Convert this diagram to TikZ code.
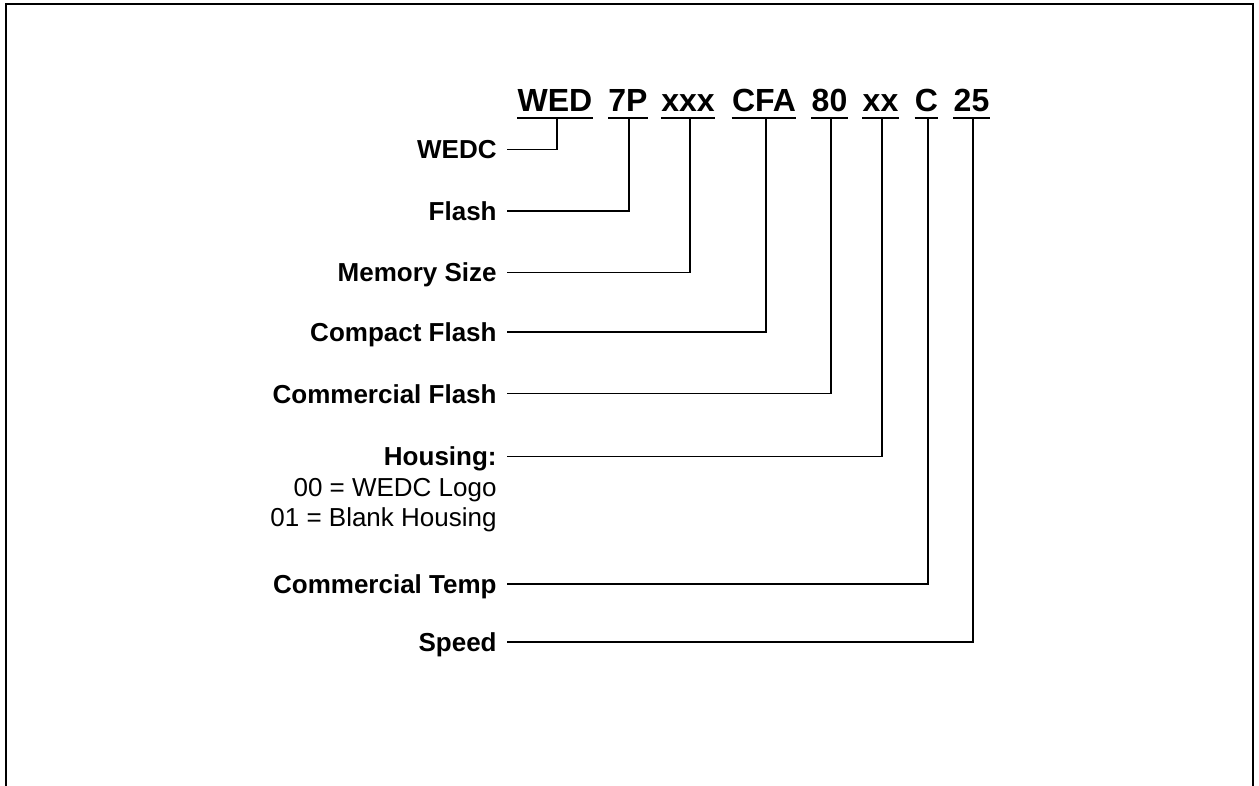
\documentclass[tikz,border=0pt]{standalone}
\usepackage{fontspec}
\setmainfont{Liberation Sans}
\begin{document}
\begin{tikzpicture}[x=0.5pt,y=-0.5pt,
		code/.style={font=\fontsize{16}{19}\selectfont\bfseries,inner sep=0pt,anchor=base},
		lbl/.style={font=\fontsize{13}{15}\selectfont\bfseries,inner sep=0pt,anchor=base east},
		note/.style={font=\fontsize{13}{15}\selectfont,inner sep=0pt,anchor=base east},
		wire/.style={line width=0.6pt}]
		\useasboundingbox (0,0) rectangle (1259,786);
		\draw[line width=1pt] (6,792) -- (6,4.5) -- (1252.5,4.5) -- (1252.5,792);
		\node[code] (wed) at (555,112) {WED};
		\node[code] (sevp) at (628,112) {7P};
		\node[code] (size) at (688,112) {xxx};
		\node[code] (cfa) at (764,112) {CFA};
		\node[code] (eighty) at (829.5,112) {80};
		\node[code] (house) at (880.5,112) {xx};
		\node[code] (temp) at (926.5,112) {C};
		\node[code] (speed) at (971.5,112) {25};
		\draw[wire] ([yshift=-3pt]wed.base west) -- ([yshift=-3pt]wed.base east);
		\draw[wire] ([yshift=-3pt]sevp.base west) -- ([yshift=-3pt]sevp.base east);
		\draw[wire] ([yshift=-3pt]size.base west) -- ([yshift=-3pt]size.base east);
		\draw[wire] ([yshift=-3pt]cfa.base west) -- ([yshift=-3pt]cfa.base east);
		\draw[wire] ([yshift=-3pt]eighty.base west) -- ([yshift=-3pt]eighty.base east);
		\draw[wire] ([yshift=-3pt]house.base west) -- ([yshift=-3pt]house.base east);
		\draw[wire] ([yshift=-3pt]temp.base west) -- ([yshift=-3pt]temp.base east);
		\draw[wire] ([yshift=-3pt]speed.base west) -- ([yshift=-3pt]speed.base east);
		\node[lbl] (lwedc) at (497,159) {WEDC};
		\node[lbl] (lflash) at (497,220.5) {Flash};
		\node[lbl] (lsize) at (497,282) {Memory Size};
		\node[lbl] (lcf) at (497,341.5) {Compact Flash};
		\node[lbl] (lcomm) at (497,403) {Commercial Flash};
		\node[lbl] (lhouse) at (497,466) {Housing:};
		\node[note] (nlogo) at (497,496.5) {00 = WEDC Logo};
		\node[note] (nblank) at (497,526.5) {01 = Blank Housing};
		\node[lbl] (ltemp) at (497,593.5) {Commercial Temp};
		\node[lbl] (lspeed) at (497,651.5) {Speed};
		\draw[wire] ([shift={(10,-9.5)}]lwedc.base east) -| ([shift={(2,6)}]wed.base);
		\draw[wire] ([shift={(10,-9.5)}]lflash.base east) -| ([shift={(1,6)}]sevp.base);
		\draw[wire] ([shift={(10,-9.5)}]lsize.base east) -| ([shift={(2,6)}]size.base);
		\draw[wire] ([shift={(10,-9.5)}]lcf.base east) -| ([shift={(2,6)}]cfa.base);
		\draw[wire] ([shift={(10,-9.5)}]lcomm.base east) -| ([shift={(1.5,6)}]eighty.base);
		\draw[wire] ([shift={(10,-9.5)}]lhouse.base east) -| ([shift={(1.5,6)}]house.base);
		\draw[wire] ([shift={(10,-9.5)}]ltemp.base east) -| ([shift={(1.5,6)}]temp.base);
		\draw[wire] ([shift={(10,-9.5)}]lspeed.base east) -| ([shift={(1.5,6)}]speed.base);
		\end{tikzpicture}
\end{document}
